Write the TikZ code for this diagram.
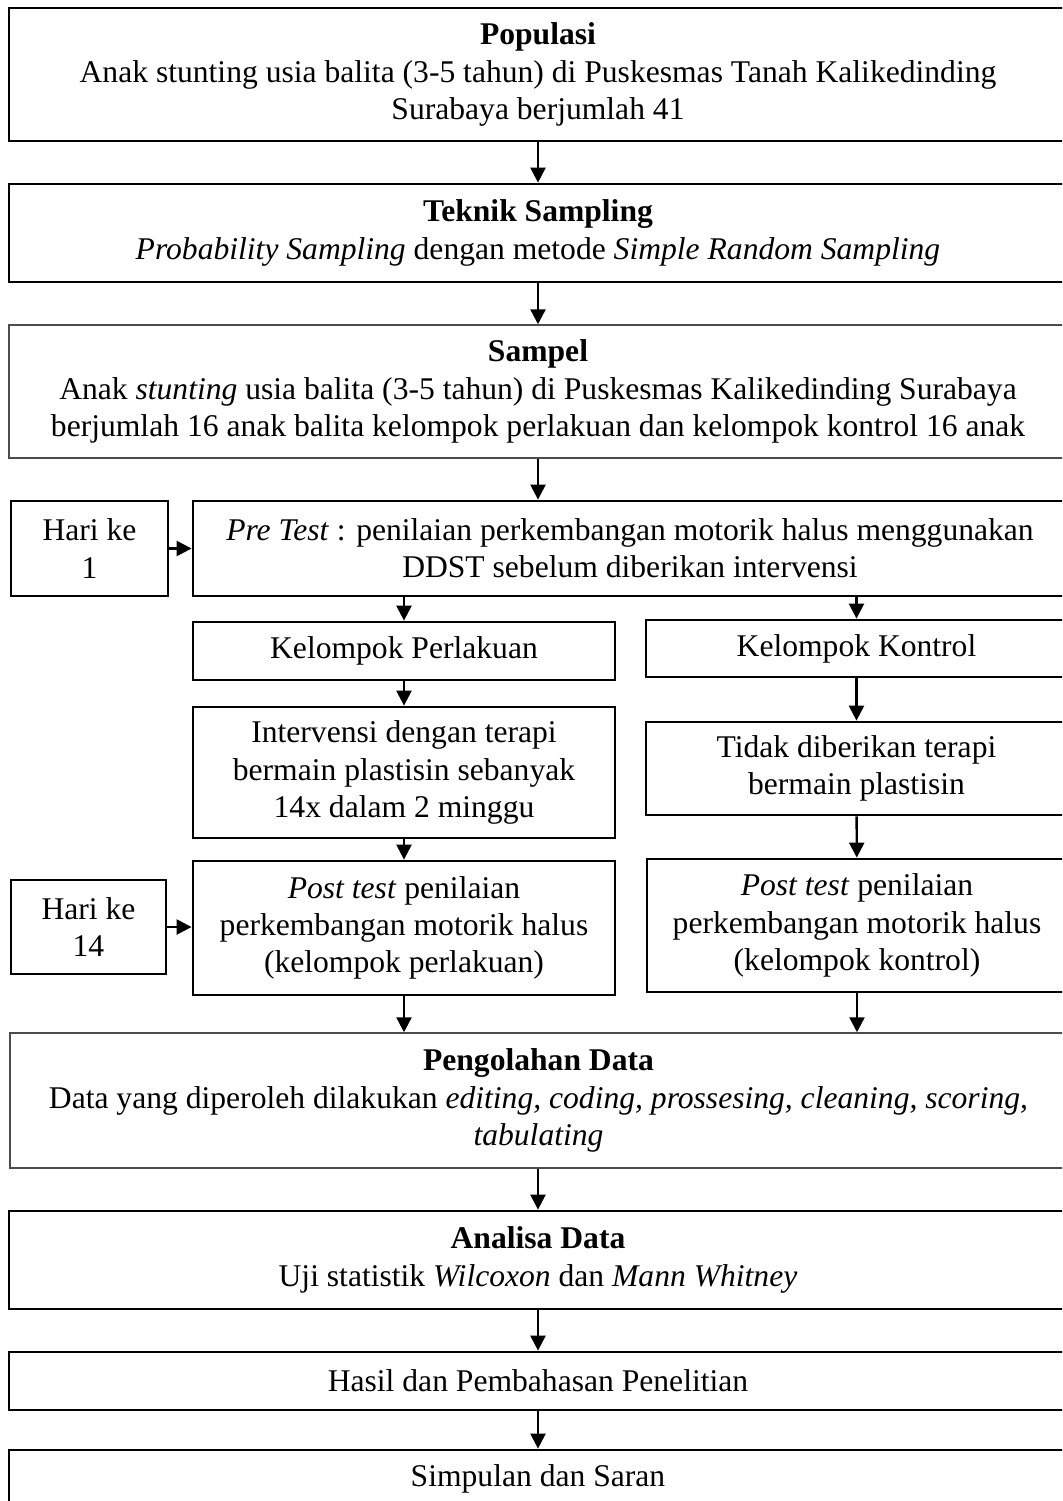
\documentclass[tikz,border=0pt]{standalone}
\usepackage{fontspec}
\setmainfont{Liberation Serif}
\usetikzlibrary{arrows.meta}
\newcommand{\flowBox}[7][]{%%
  %% A box given by its corners (x1,y1) and (x2,y2), in pixels.
  \node[boxStyle,#1,minimum width={(#5-#3)*0.5pt},minimum height={(#6-#4)*0.5pt}]
    (#2) at ({(#3+#5)/2},{(#4+#6)/2}) {#7};
}

\begin{document}
\begin{tikzpicture}[%%
  x=0.5pt,y=-0.5pt,%%
  boxStyle/.style={draw,line width=1.4pt,rectangle,align=center,inner sep=0pt,%%
    font=\fontsize{15.8}{18.6}\selectfont},%%
  thinBoxStyle/.style={draw=black!70,line width=0.75pt},%%
  arrowStyle/.style={-{Triangle[length=7.5pt,width=7.5pt]},line width=1.2pt}%%
]
%%
%%
\pgfmathsetmacro{\xr}{1067}  %% The right edge, just off the page.
\clip (0,0) rectangle (1062,1501);
%% The main column.
\flowBox{populasi}{9}{8}{\xr}{141}{\textbf{Populasi}\\
  Anak stunting usia balita (3-5 tahun) di Puskesmas Tanah Kalikedinding\\
  Surabaya berjumlah 41}
\flowBox{teknik}{9}{184}{\xr}{282}{\textbf{Teknik Sampling}\\
  \textit{Probability Sampling} dengan metode \textit{Simple Random Sampling}}
\flowBox[thinBoxStyle]{sampel}{9}{325}{\xr}{458}{\textbf{Sampel}\\
  Anak \textit{stunting} usia balita (3-5 tahun) di Puskesmas Kalikedinding Surabaya\\
  berjumlah 16 anak balita kelompok perlakuan dan kelompok kontrol 16 anak}
%% The pre test, with its day.
\flowBox{hariSatu}{11}{501}{168}{596}{Hari ke\\1}
\flowBox{preTest}{193}{501}{\xr}{596}{\textit{Pre Test} : penilaian perkembangan motorik halus menggunakan\\
  DDST sebelum diberikan intervensi}
%% The two groups.
\flowBox{kelPerlakuan}{193}{622}{615}{680}{Kelompok Perlakuan}
\flowBox{kelKontrol}{646}{620}{\xr}{677}{Kelompok Kontrol}
\flowBox{intervensi}{193}{707}{615}{838}{Intervensi dengan terapi\\
  bermain plastisin sebanyak\\ 14x dalam 2 minggu}
\flowBox{tidak}{646}{722}{\xr}{815}{Tidak diberikan terapi\\ bermain plastisin}
%% The post tests, with the day.
\flowBox{hariEmpatBelas}{11}{880}{166}{974}{Hari ke\\14}
\flowBox{postPerlakuan}{193}{861}{615}{995}{\textit{Post test} penilaian\\
  perkembangan motorik halus\\ (kelompok perlakuan)}
\flowBox{postKontrol}{647}{859}{\xr}{992}{\textit{Post test} penilaian\\
  perkembangan motorik halus\\ (kelompok kontrol)}
%% The data and the end.
\flowBox[thinBoxStyle]{pengolahan}{10}{1033}{\xr}{1168}{\textbf{Pengolahan Data}\\
  Data yang diperoleh dilakukan \textit{editing, coding, prossesing, cleaning, scoring,}\\
  \textit{tabulating}}
\flowBox{analisa}{9}{1211}{\xr}{1309}{\textbf{Analisa Data}\\
  Uji statistik \textit{Wilcoxon} dan \textit{Mann Whitney}}
\flowBox{hasil}{9}{1352}{\xr}{1410}{Hasil dan Pembahasan Penelitian}
\flowBox{simpulan}{9}{1450}{\xr}{1508}{Simpulan dan Saran}
%% The arrows.
\draw[arrowStyle] (populasi) -- (teknik);
\draw[arrowStyle] (teknik) -- (sampel);
\draw[arrowStyle] (sampel) -- (sampel.south |- preTest.north);
\draw[arrowStyle] (hariSatu) -- (preTest);
\draw[arrowStyle] (preTest.south -| kelPerlakuan.north) -- (kelPerlakuan);
\draw[arrowStyle] (preTest.south -| kelKontrol.north) -- (kelKontrol);
\draw[arrowStyle] (kelPerlakuan) -- (intervensi);
\draw[arrowStyle] (intervensi) -- (postPerlakuan);
\draw[arrowStyle] (kelKontrol) -- (tidak);
\draw[arrowStyle] (tidak) -- (postKontrol);
\draw[arrowStyle] (hariEmpatBelas.east) -- (hariEmpatBelas.east -| postPerlakuan.west);
\draw[arrowStyle] (postPerlakuan) -- (postPerlakuan.south |- pengolahan.north);
\draw[arrowStyle] (postKontrol) -- (postKontrol.south |- pengolahan.north);
\draw[arrowStyle] (pengolahan.south -| analisa.north) -- (analisa);
\draw[arrowStyle] (analisa) -- (hasil);
\draw[arrowStyle] (hasil) -- (simpulan);
\end{tikzpicture}
\end{document}
